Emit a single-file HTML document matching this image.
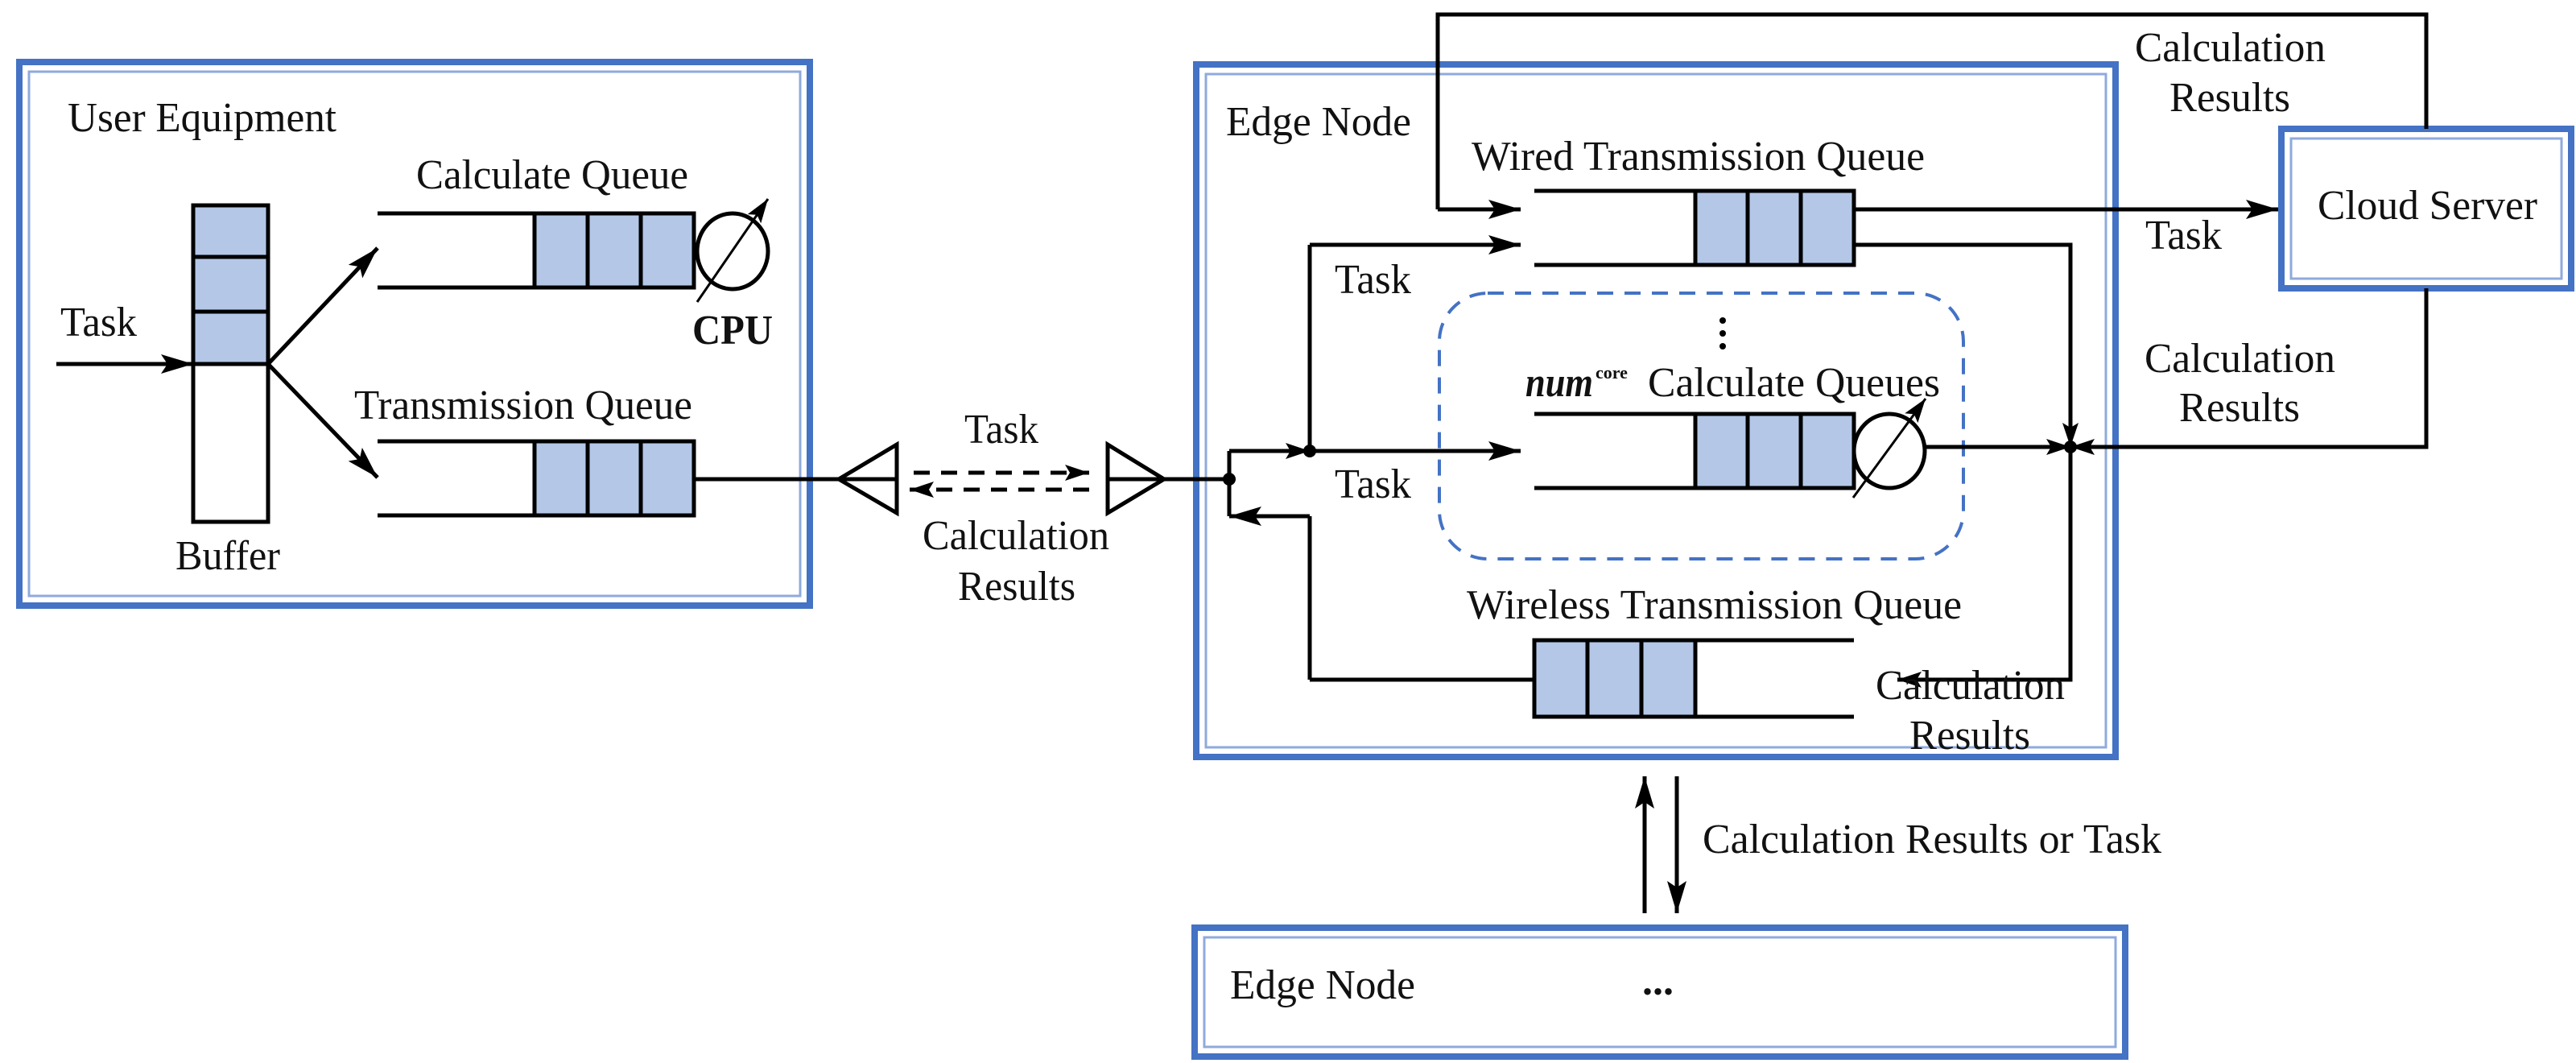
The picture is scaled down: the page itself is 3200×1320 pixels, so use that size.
<!DOCTYPE html>
<html><head><meta charset="utf-8"><style>
html,body{margin:0;padding:0;background:#fff}
svg{display:block}
</style></head><body>
<svg width="3200" height="1320" viewBox="0 0 3200 1320" xmlns="http://www.w3.org/2000/svg">
<defs>
<marker id="a" viewBox="0 0 40 24" refX="40" refY="12" markerWidth="40" markerHeight="24" markerUnits="userSpaceOnUse" orient="auto"><path d="M0,0 L40,12 L0,24 L8,12 Z" fill="#000"/></marker>
<marker id="as" viewBox="0 0 30 20" refX="30" refY="10" markerWidth="30" markerHeight="20" markerUnits="userSpaceOnUse" orient="auto"><path d="M0,0 L30,10 L0,20 L6,10 Z" fill="#000"/></marker>
</defs>

<g fill="none">
<rect x="24" y="77" width="982" height="675" stroke="#4472C4" stroke-width="8"/>
<rect x="36" y="89" width="958" height="651" stroke="#8FAADC" stroke-width="3"/>
<rect x="1486" y="80" width="1142" height="860" stroke="#4472C4" stroke-width="8"/>
<rect x="1498" y="92" width="1118" height="836" stroke="#8FAADC" stroke-width="3"/>
<rect x="2834" y="160" width="360" height="198" stroke="#4472C4" stroke-width="8"/>
<rect x="2846" y="172" width="336" height="174" stroke="#8FAADC" stroke-width="3"/>
<rect x="1484" y="1152" width="1156" height="160" stroke="#4472C4" stroke-width="8"/>
<rect x="1496" y="1164" width="1132" height="136" stroke="#8FAADC" stroke-width="3"/>
<rect x="1788" y="364" width="651" height="330" rx="60" stroke="#4472C4" stroke-width="4" stroke-dasharray="20,14"/>
</g>

<g stroke="#000" stroke-width="5" fill="none">
<rect x="240" y="255" width="93" height="393" fill="#fff"/>
<rect x="240" y="255" width="93" height="197" fill="#B4C7E7"/>
<line x1="240" y1="319" x2="333" y2="319"/><line x1="240" y1="387" x2="333" y2="387"/>
<line x1="70" y1="452" x2="240" y2="452" marker-end="url(#a)"/>
<line x1="333" y1="452" x2="469" y2="308" marker-end="url(#a)"/>
<line x1="333" y1="452" x2="469" y2="593" marker-end="url(#a)"/>
<line x1="469" y1="265" x2="664" y2="265"/><line x1="469" y1="357" x2="664" y2="357"/>
<rect x="664" y="265" width="198" height="92" fill="#B4C7E7"/>
<line x1="730" y1="265" x2="730" y2="357"/><line x1="796" y1="265" x2="796" y2="357"/>
<ellipse cx="910" cy="312" rx="44" ry="47"/>
<line x1="866" y1="375" x2="954" y2="247" stroke-width="3" marker-end="url(#as)"/>
<line x1="469" y1="548" x2="664" y2="548"/><line x1="469" y1="640" x2="664" y2="640"/>
<rect x="664" y="548" width="198" height="92" fill="#B4C7E7"/>
<line x1="730" y1="548" x2="730" y2="640"/><line x1="796" y1="548" x2="796" y2="640"/>
<line x1="862" y1="595" x2="1114" y2="595"/>
<path d="M1114,552 L1042,595 L1114,637 Z"/>
<path d="M1376,552 L1446,595 L1376,637 Z"/>
<line x1="1376" y1="595" x2="1527" y2="595"/>
<line x1="1135" y1="587" x2="1353" y2="587" stroke-dasharray="20,14" marker-end="url(#as)"/>
<line x1="1353" y1="608" x2="1130" y2="608" stroke-dasharray="20,14" marker-end="url(#as)"/>
<line x1="1527" y1="560" x2="1527" y2="641"/>
<line x1="1527" y1="560" x2="1627" y2="560" marker-end="url(#as)"/>
<line x1="1627" y1="560" x2="1889" y2="560" marker-end="url(#a)"/>
<line x1="1627" y1="304" x2="1627" y2="560"/>
<line x1="1627" y1="304" x2="1889" y2="304" marker-end="url(#a)"/>
<line x1="1627" y1="641" x2="1527" y2="641" marker-end="url(#a)"/>
<line x1="1627" y1="641" x2="1627" y2="844"/>
<line x1="1627" y1="844" x2="1906" y2="844"/>
<polyline points="3014,160 3014,18 1786,18 1786,260"/>
<line x1="1786" y1="260" x2="1889" y2="260" marker-end="url(#a)"/>
<line x1="1906" y1="237" x2="2106" y2="237"/><line x1="1906" y1="329" x2="2106" y2="329"/>
<rect x="2106" y="237" width="197" height="92" fill="#B4C7E7"/>
<line x1="2171" y1="237" x2="2171" y2="329"/><line x1="2237" y1="237" x2="2237" y2="329"/>
<line x1="2303" y1="260" x2="2830" y2="260" marker-end="url(#a)"/>
<polyline points="2303,304 2572,304 2572,555"/>
<line x1="2572" y1="520" x2="2572" y2="555" marker-end="url(#as)"/>
<polyline points="2572,555 2572,844 2360,844"/>
<line x1="2400" y1="844" x2="2357" y2="844" marker-end="url(#as)"/>
<line x1="1906" y1="514" x2="2106" y2="514"/><line x1="1906" y1="606" x2="2106" y2="606"/>
<rect x="2106" y="514" width="197" height="92" fill="#B4C7E7"/>
<line x1="2171" y1="514" x2="2171" y2="606"/><line x1="2237" y1="514" x2="2237" y2="606"/>
<ellipse cx="2347" cy="560" rx="44" ry="46"/>
<line x1="2302" y1="618" x2="2392" y2="495" stroke-width="3" marker-end="url(#as)"/>
<line x1="2391" y1="555" x2="2572" y2="555" marker-end="url(#as)"/>
<polyline points="3014,358 3014,555 2572,555"/>
<line x1="2610" y1="555" x2="2572" y2="555" marker-end="url(#as)"/>
<rect x="1906" y="795" width="200" height="95" fill="#B4C7E7"/>
<line x1="1972" y1="795" x2="1972" y2="890"/><line x1="2039" y1="795" x2="2039" y2="890"/>
<line x1="2106" y1="795" x2="2303" y2="795"/><line x1="2106" y1="890" x2="2303" y2="890"/>
<line x1="2043" y1="1134" x2="2043" y2="964" marker-end="url(#a)"/>
<line x1="2083" y1="964" x2="2083" y2="1134" marker-end="url(#a)"/>
</g>
<g fill="#000">
<circle cx="1527" cy="595" r="8"/><circle cx="1627" cy="560" r="8"/><circle cx="2572" cy="555" r="8"/>
<circle cx="2140" cy="398" r="4"/><circle cx="2140" cy="414" r="4"/><circle cx="2140" cy="430" r="4"/>
</g>

<g font-family="'Liberation Serif', 'DejaVu Serif', serif" font-size="52" fill="#111">
<text x="84" y="163" textLength="334" lengthAdjust="spacingAndGlyphs">User Equipment</text>
<text x="517" y="234" textLength="338" lengthAdjust="spacingAndGlyphs">Calculate Queue</text>
<text x="75" y="417" textLength="95" lengthAdjust="spacingAndGlyphs">Task</text>
<text x="860" y="427" font-weight="bold" textLength="100" lengthAdjust="spacingAndGlyphs">CPU</text>
<text x="440" y="520" textLength="420" lengthAdjust="spacingAndGlyphs">Transmission Queue</text>
<text x="218" y="707" textLength="130" lengthAdjust="spacingAndGlyphs">Buffer</text>
<text x="1198" y="550" textLength="92" lengthAdjust="spacingAndGlyphs">Task</text>
<text x="1146" y="682" textLength="232" lengthAdjust="spacingAndGlyphs">Calculation</text>
<text x="1190" y="745" textLength="146" lengthAdjust="spacingAndGlyphs">Results</text>
<text x="1523" y="168" textLength="230" lengthAdjust="spacingAndGlyphs">Edge Node</text>
<text x="1828" y="211" textLength="563" lengthAdjust="spacingAndGlyphs">Wired Transmission Queue</text>
<text x="1658" y="364" textLength="95" lengthAdjust="spacingAndGlyphs">Task</text>
<text x="1658" y="618" textLength="95" lengthAdjust="spacingAndGlyphs">Task</text>
<text x="1895" y="492" font-style="italic" font-weight="bold" textLength="84" lengthAdjust="spacingAndGlyphs">num</text>
<text x="1982" y="470" font-size="22" font-weight="bold">core</text>
<text x="2047" y="492" textLength="363" lengthAdjust="spacingAndGlyphs">Calculate Queues</text>
<text x="1822" y="768" textLength="615" lengthAdjust="spacingAndGlyphs">Wireless Transmission Queue</text>
<text x="2330" y="868" textLength="235" lengthAdjust="spacingAndGlyphs">Calculation</text>
<text x="2372" y="930" textLength="150" lengthAdjust="spacingAndGlyphs">Results</text>
<text x="2652" y="76" textLength="237" lengthAdjust="spacingAndGlyphs">Calculation</text>
<text x="2695" y="138" textLength="150" lengthAdjust="spacingAndGlyphs">Results</text>
<text x="2665" y="309" textLength="95" lengthAdjust="spacingAndGlyphs">Task</text>
<text x="2879" y="272" textLength="273" lengthAdjust="spacingAndGlyphs">Cloud Server</text>
<text x="2664" y="462" textLength="237" lengthAdjust="spacingAndGlyphs">Calculation</text>
<text x="2707" y="523" textLength="150" lengthAdjust="spacingAndGlyphs">Results</text>
<text x="2115" y="1059" textLength="570" lengthAdjust="spacingAndGlyphs">Calculation Results or Task</text>
<text x="1528" y="1240" textLength="230" lengthAdjust="spacingAndGlyphs">Edge Node</text>
<text x="2040" y="1235" font-weight="bold">...</text>
</g>
</svg>
</body></html>
